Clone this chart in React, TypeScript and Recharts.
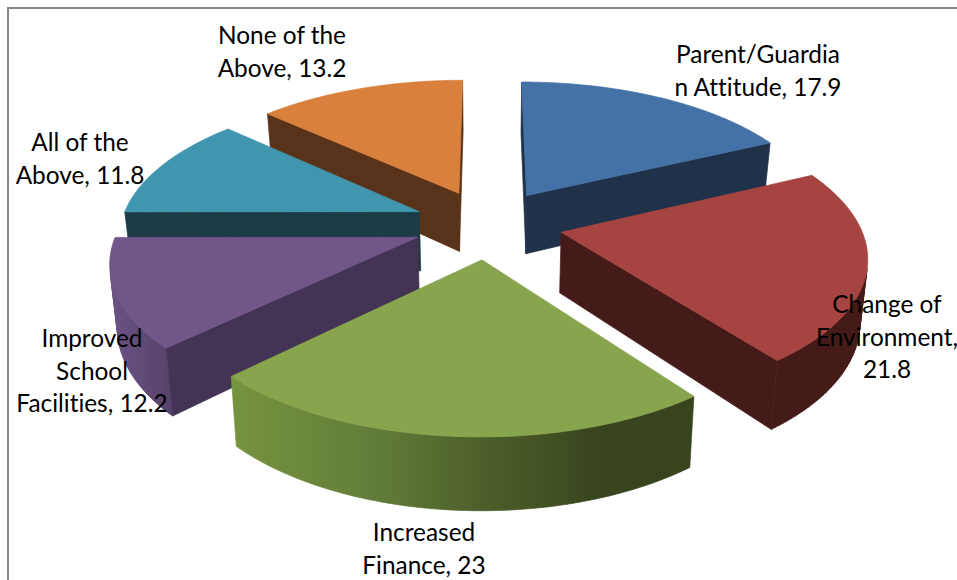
import { PieChart, Pie } from 'recharts';

const categories = [
  'Parent/Guardian Attitude',
  'Change of Environment',
  'Increased Finance',
  'Improved School Facilities',
  'All of the Above',
  'None of the Above',
];
const values = [17.9, 21.8, 23, 12.2, 11.8, 13.2];

// data labels, wrapped the way the chart wraps them
const labelLines = [
  ['Parent/Guardia', `n Attitude, ${values[0]}`],
  ['Change of', 'Environment,', `${values[1]}`],
  ['Increased', `Finance, ${values[2]}`],
  ['Improved', 'School', `Facilities, ${values[3]}`],
  ['All of the', `Above, ${values[4]}`],
  ['None of the', `Above, ${values[5]}`],
];
const labelAnchors = [
  { x: 758, y: 63 },
  { x: 887, y: 313 },
  { x: 424, y: 541 },
  { x: 92, y: 347 },
  { x: 80, y: 151 },
  { x: 282, y: 44 },
];

const topColors = ['#4471a6', '#a64441', '#88a44d', '#715689', '#4096af', '#d8803c'];
const cutColors = ['#1f3249', '#451b19', '#38441d', '#433355', '#1b3b47', '#58331a'];
const rimColors = ['#1f3249', '#451b19', 'url(#greenRim)', 'url(#purpleRim)', '#1b3b47', '#b56a30'];

// back slices are painted first so the front ones overlap them
const paintOrder = [5, 4, 0, 1, 3, 2];

const rows = categories.map((name, i) => ({ name, value: values[i] }));

const CENTER_X = 488;
const CENTER_Y = 224;
const RADIUS = 298.5;
const EXPLODE = 0.25;
const FLATTEN = 0.464;
const PERSPECTIVE = 0.15;
const DEPTH = 60;
const FLOOR_SCALE = 0.98;

type Pt = { x: number; y: number };

const rad = (deg: number) => (deg * Math.PI) / 180;

function signedArea(pts: Pt[]) {
  let sum = 0;
  pts.forEach((p, i) => {
    const q = pts[(i + 1) % pts.length];
    sum += p.x * q.y - q.x * p.y;
  });
  return sum / 2;
}

const toPath = (pts: Pt[]) =>
  pts.map((p, i) => `${i ? 'L' : 'M'}${p.x.toFixed(2)},${p.y.toFixed(2)}`).join('') + 'Z';

// Wedge drawn as a prism on a tilted plane, from the angles the Pie computed
function Slice3D(props: any) {
  const { cx, cy, outerRadius, startAngle, endAngle, name } = props;
  const index = categories.indexOf(name);
  // Pie angles run from 3 o'clock, the wedge maths runs clockwise from 12
  const from = 90 - startAngle;
  const to = 90 - endAngle;
  const mid = rad((from + to) / 2);
  const offU = EXPLODE * Math.sin(mid);
  const offV = -EXPLODE * Math.cos(mid);

  const project = (u: number, v: number, floor: boolean): Pt => {
    const s = 1 / (1 - PERSPECTIVE * (v + offV));
    const k = floor ? FLOOR_SCALE : 1;
    return {
      x: cx + outerRadius * (u + offU) * s * k,
      y: cy + outerRadius * FLATTEN * (v + offV) * s + (floor ? DEPTH * s : 0),
    };
  };

  const steps = Math.max(8, Math.ceil(to - from));
  const arc: [number, number][] = [];
  for (let i = 0; i <= steps; i++) {
    const a = rad(from + ((to - from) * i) / steps);
    arc.push([Math.sin(a), -Math.cos(a)]);
  }
  const loop: [number, number][] = [[0, 0], ...arc];

  const top = loop.map(([u, v]) => project(u, v, false));
  const cutFaces: string[] = [];
  let rimPath = '';
  loop.forEach((a, i) => {
    const b = loop[(i + 1) % loop.length];
    const quad = [
      project(a[0], a[1], false),
      project(b[0], b[1], false),
      project(b[0], b[1], true),
      project(a[0], a[1], true),
    ];
    if (signedArea(quad) >= 0) return;
    if (i === 0 || i === loop.length - 1) cutFaces.push(toPath(quad));
    else rimPath += toPath(quad);
  });

  // thin strokes close the antialiasing seams between faces
  return (
    <g strokeWidth={0.7} strokeLinejoin="round">
      {rimPath && <path d={rimPath} fill={rimColors[index]} stroke={rimColors[index]} />}
      {cutFaces.map((d, i) => (
        <path key={i} d={d} fill={cutColors[index]} stroke={cutColors[index]} />
      ))}
      <path d={toPath(top)} fill={topColors[index]} stroke={topColors[index]} />
    </g>
  );
}

function SliceLabel(props: any) {
  const index = categories.indexOf(props.name);
  const { x, y } = labelAnchors[index];
  return (
    <text
      x={x}
      y={y}
      textAnchor="middle"
      fontFamily="Lato, sans-serif"
      fontSize={24.4}
      fill="#000"
      style={{ fontVariantLigatures: 'none' }}
    >
      {labelLines[index].map((line, i) => (
        <tspan key={i} x={x} y={y + i * 32.5}>
          {line}
        </tspan>
      ))}
    </text>
  );
}

export default function App() {
  return (
    <div style={{ position: 'absolute', left: 0, top: 0, width: 957, height: 580, overflow: 'hidden', background: '#fff' }}>
      <div style={{ position: 'absolute', left: 7, top: 7, width: 960, height: 590, borderLeft: '2px solid #868686', borderTop: '2px solid #868686' }} />
      <div style={{ position: 'absolute', left: 0, top: 0 }}>
        <PieChart width={957} height={580} margin={{ top: 0, right: 0, bottom: 0, left: 0 }}>
          <defs>
            <linearGradient id="greenRim" x1="0" y1="0" x2="1" y2="0">
              <stop offset="0%" stopColor="#76933f" />
              <stop offset="28%" stopColor="#64803a" />
              <stop offset="52%" stopColor="#4f622b" />
              <stop offset="80%" stopColor="#38441d" />
              <stop offset="100%" stopColor="#38441d" />
            </linearGradient>
            <linearGradient id="purpleRim" x1="0" y1="0" x2="1" y2="0">
              <stop offset="0%" stopColor="#6a5285" />
              <stop offset="100%" stopColor="#574369" />
            </linearGradient>
          </defs>
          {paintOrder.map((i) => (
            <Pie
              key={categories[i]}
              data={rows}
              dataKey="value"
              nameKey="name"
              cx={CENTER_X}
              cy={CENTER_Y}
              innerRadius={0}
              outerRadius={RADIUS}
              startAngle={90}
              endAngle={-270}
              stroke="none"
              isAnimationActive={false}
              shape={(p: any) => (p.name === categories[i] ? <Slice3D {...p} /> : <g />)}
            />
          ))}
          <Pie
            data={rows}
            dataKey="value"
            nameKey="name"
            cx={CENTER_X}
            cy={CENTER_Y}
            outerRadius={RADIUS}
            startAngle={90}
            endAngle={-270}
            isAnimationActive={false}
            shape={() => <g />}
            label={(p: any) => <SliceLabel {...p} />}
            labelLine={false}
          />
        </PieChart>
      </div>
    </div>
  );
}
